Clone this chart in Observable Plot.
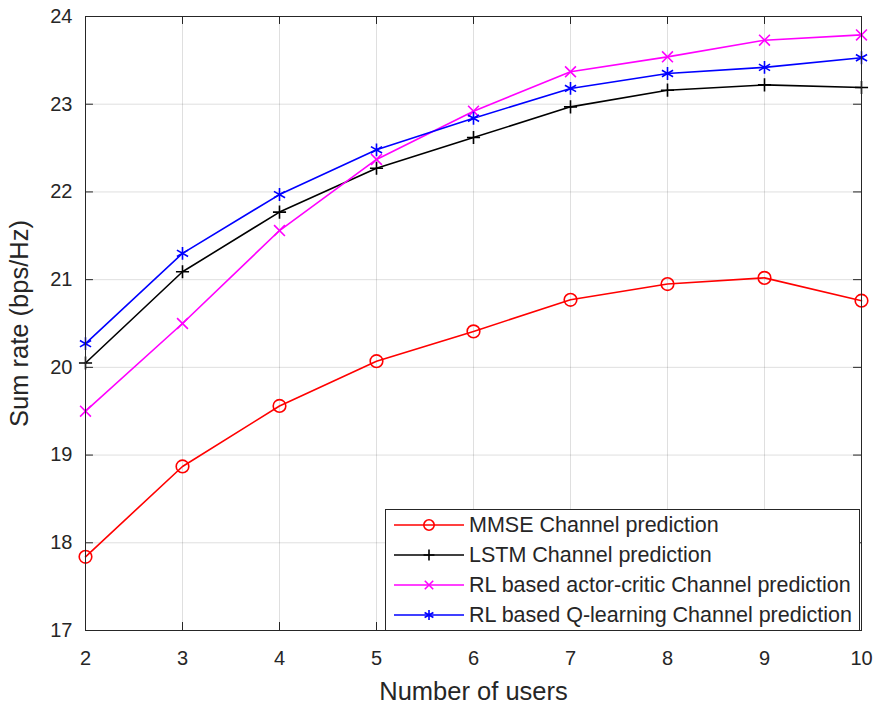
<!DOCTYPE html>
<html><head><meta charset="utf-8">
<script src="https://cdn.jsdelivr.net/npm/d3@7"></script>
<script src="https://cdn.jsdelivr.net/npm/@observablehq/plot@0.6"></script>
<style>
body{margin:0;background:#fff;}
#wrap{position:relative;width:879px;height:709px;font-family:"Liberation Sans",Arial,sans-serif;}
#wrap svg [aria-label="x-axis label"] text,#wrap svg [aria-label="y-axis label"] text{font-size:25.5px;}
#legend{position:absolute;left:385px;top:509px;width:473px;height:120px;border:1px solid #262626;background:#fff;}
.row{display:flex;align-items:center;height:30px;font-size:21.5px;color:#262626;white-space:nowrap;}
.row svg{flex:none;}
</style></head><body><div id="wrap"></div>
<script>
const users = [2, 3, 4, 5, 6, 7, 8, 9, 10];
const mmse = [17.84, 18.87, 19.56, 20.07, 20.41, 20.77, 20.95, 21.02, 20.76];
const lstm = [20.05, 21.09, 21.77, 22.27, 22.62, 22.97, 23.16, 23.22, 23.19];
const actorCritic = [19.50, 20.50, 21.56, 22.37, 22.92, 23.37, 23.54, 23.73, 23.79];
const qLearning = [20.27, 21.30, 21.97, 22.48, 22.84, 23.18, 23.35, 23.42, 23.53];
const seriesNames = ["MMSE Channel prediction", "LSTM Channel prediction", "RL based actor-critic Channel prediction", "RL based Q-learning Channel prediction"];
const seriesColors = ["#ff0000", "#000000", "#ff00ff", "#0000ff"];
const seriesSymbols = ["circle", "plus", "times", "asterisk"];
const xTicks = [2, 3, 4, 5, 6, 7, 8, 9, 10];
const yTicks = [17, 18, 19, 20, 21, 22, 23, 24];

const seriesValues = [mmse, lstm, actorCritic, qLearning];
const data = seriesNames.flatMap((name, i) => users.map((u, j) => ({series: name, users: u, rate: seriesValues[i][j]})));

const xDomain = [2, 10], yDomain = [17, 24];
const tickLenX = 0.082, tickLenY = 0.091;
const ink = "#262626";
const markerR = [6.3, 4.3, 5.0, 6.1];
const legendR = [5.2, 3.6, 3.9, 4.8];

const chart = Plot.plot({
  width: 879, height: 709,
  marginLeft: 85, marginRight: 18, marginTop: 16, marginBottom: 79,
  style: {fontFamily: '"Liberation Sans", Arial, sans-serif', color: ink, background: "#fff"},
  x: {domain: xDomain, label: "Number of users"},
  y: {domain: yDomain, label: "Sum rate (bps/Hz)"},
  color: {domain: seriesNames, range: seriesColors},
  symbol: {domain: seriesNames, range: seriesSymbols},
  marks: [
    Plot.gridX(xTicks, {stroke: ink, strokeOpacity: 0.15, strokeWidth: 1}),
    Plot.gridY(yTicks, {stroke: ink, strokeOpacity: 0.15, strokeWidth: 1}),
    Plot.ruleX(xTicks, {x: d => d, y1: yDomain[0], y2: yDomain[0] + tickLenY, stroke: ink}),
    Plot.ruleX(xTicks, {x: d => d, y1: yDomain[1], y2: yDomain[1] - tickLenY, stroke: ink}),
    Plot.ruleY(yTicks, {y: d => d, x1: xDomain[0], x2: xDomain[0] + tickLenX, stroke: ink}),
    Plot.ruleY(yTicks, {y: d => d, x1: xDomain[1], x2: xDomain[1] - tickLenX, stroke: ink}),
    Plot.axisX(xTicks, {tickSize: 0, tickPadding: 20, fontSize: 20, tickFormat: "d", label: "Number of users", labelAnchor: "center", labelArrow: "none", labelOffset: 69}),
    Plot.axisY(yTicks, {tickSize: 0, tickPadding: 13, fontSize: 20, tickFormat: "d", label: "Sum rate (bps/Hz)", labelAnchor: "center", labelArrow: "none", labelOffset: 76}),
    Plot.line(data, {x: "users", y: "rate", z: "series", stroke: "series", strokeWidth: 1.6}),
    ...seriesNames.map((name, i) => Plot.dot(data.filter(d => d.series === name), {x: "users", y: "rate", stroke: "series", symbol: "series", r: markerR[i], fill: "none", strokeWidth: 1.6})),
    Plot.frame({stroke: ink, strokeWidth: 1})
  ]
});

const wrap = document.getElementById("wrap");
wrap.appendChild(chart);

const legend = document.createElement("div");
legend.id = "legend";
const symbolMap = {circle: d3.symbolCircle, plus: d3.symbolPlus, times: d3.symbolTimes, asterisk: d3.symbolAsterisk};
seriesNames.forEach((name, i) => {
  const row = document.createElement("div");
  row.className = "row";
  const sw = d3.create("svg").attr("width", 83).attr("height", 30);
  sw.append("line").attr("x1", 8).attr("x2", 78).attr("y1", 15).attr("y2", 15).attr("stroke", seriesColors[i]).attr("stroke-width", 1.6);
  sw.append("path").attr("transform", "translate(43,15)")
    .attr("d", d3.symbol(symbolMap[seriesSymbols[i]], Math.PI * legendR[i] * legendR[i])())
    .attr("fill", "none").attr("stroke", seriesColors[i]).attr("stroke-width", 1.6);
  row.appendChild(sw.node());
  const t = document.createElement("span");
  t.textContent = name;
  row.appendChild(t);
  legend.appendChild(row);
});
wrap.appendChild(legend);
</script></body></html>
